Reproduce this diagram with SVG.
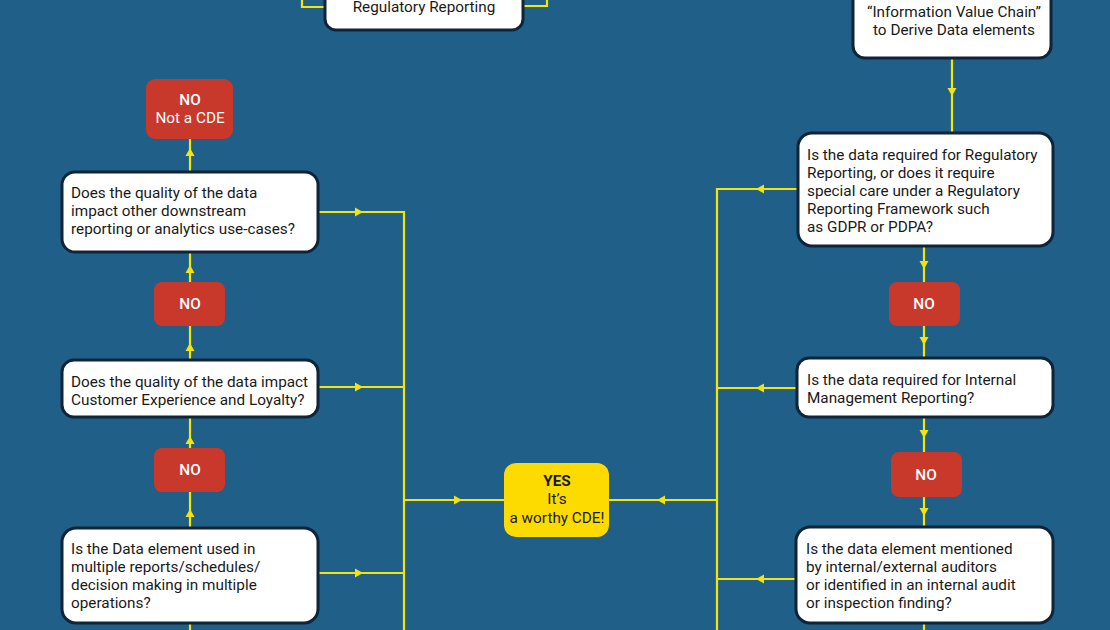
<svg xmlns="http://www.w3.org/2000/svg" width="1110" height="630" viewBox="0 0 1110 630">
<defs>
<style>
.q{fill:#ffffff;stroke:#0f2438;stroke-width:3}
.no{fill:#c8382b}
.yes{fill:#fddb00}
.t{font-family:Roboto,"Liberation Sans",sans-serif;font-size:15.3px;fill:#1a1a1a}
.w{font-family:Roboto,"Liberation Sans",sans-serif;font-size:15.3px;fill:#ffffff;text-anchor:middle}
.c{text-anchor:middle}
.b{font-weight:500}
.ln{fill:none;stroke:#f5e40c;stroke-width:2.2}
.ah{fill:#f5e40c}
</style>
<path id="ah" d="M0,0 L-8,-4.5 L-8,4.5 Z"/>
</defs>
<rect width="1110" height="630" fill="#1f5f88"/>
<g id="connectors">
<path class="ln" d="M325,7 H302 V0"/>
<path class="ln" d="M523,6 H547 V0"/>
<path class="ln" d="M952,58 V133"/>
<path class="ln" d="M798,189 H717 V630"/>
<path class="ln" d="M797,388 H717"/>
<path class="ln" d="M796,579 H717"/>
<path class="ln" d="M924,246 V282"/>
<path class="ln" d="M924,326 V358"/>
<path class="ln" d="M924,417 V452"/>
<path class="ln" d="M924,497 V527"/>
<path class="ln" d="M924,623 V630"/>
<path class="ln" d="M717,500 H609"/>
<path class="ln" d="M404,500 H504"/>
<path class="ln" d="M318,212 H404 V630"/>
<path class="ln" d="M318,387 H404"/>
<path class="ln" d="M318,573 H404"/>
<path class="ln" d="M190,172 V139"/>
<path class="ln" d="M190,282 V252"/>
<path class="ln" d="M190,360 V326"/>
<path class="ln" d="M190,448 V417"/>
<path class="ln" d="M190,528 V492"/>
<path class="ln" d="M190,623 V630"/>
<g class="ah">
<use href="#ah" transform="translate(952,96) rotate(90)"/>
<use href="#ah" transform="translate(756,189) rotate(180)"/>
<use href="#ah" transform="translate(756,388) rotate(180)"/>
<use href="#ah" transform="translate(756,579) rotate(180)"/>
<use href="#ah" transform="translate(924,269) rotate(90)"/>
<use href="#ah" transform="translate(924,345) rotate(90)"/>
<use href="#ah" transform="translate(924,438) rotate(90)"/>
<use href="#ah" transform="translate(924,516) rotate(90)"/>
<use href="#ah" transform="translate(657,500) rotate(180)"/>
<use href="#ah" transform="translate(462,500)"/>
<use href="#ah" transform="translate(363,212)"/>
<use href="#ah" transform="translate(363,387)"/>
<use href="#ah" transform="translate(363,573)"/>
<use href="#ah" transform="translate(190,148) rotate(-90)"/>
<use href="#ah" transform="translate(190,265) rotate(-90)"/>
<use href="#ah" transform="translate(190,343) rotate(-90)"/>
<use href="#ah" transform="translate(190,436) rotate(-90)"/>
<use href="#ah" transform="translate(190,509) rotate(-90)"/>
</g>
</g>
<g id="reg-top">
<rect class="q" x="325" y="-20" width="198" height="50" rx="11"/>
<text class="t c" x="424" y="12">Regulatory Reporting</text>
</g>
<g id="ivc">
<rect class="q" x="853" y="-20" width="198" height="78" rx="12"/>
<text class="t c" x="954" y="17">“Information Value Chain”</text>
<text class="t c" x="954" y="35">to Derive Data elements</text>
</g>
<g id="q-regulatory">
<rect class="q" x="798" y="133" width="255" height="113" rx="14"/>
<text class="t" x="807" y="160">Is the data required for Regulatory</text>
<text class="t" x="807" y="178">Reporting, or does it require</text>
<text class="t" x="807" y="196">special care under a Regulatory</text>
<text class="t" x="807" y="214">Reporting Framework such</text>
<text class="t" x="807" y="232">as GDPR or PDPA?</text>
</g>
<g id="no-r1">
<rect class="no" x="889" y="282" width="71" height="44" rx="8"/>
<text class="w b" x="924" y="309">NO</text>
</g>
<g id="q-internal">
<rect class="q" x="797" y="358" width="256" height="59" rx="12"/>
<text class="t" x="807" y="385">Is the data required for Internal</text>
<text class="t" x="807" y="403">Management Reporting?</text>
</g>
<g id="no-r2">
<rect class="no" x="891" y="452" width="71" height="45" rx="8"/>
<text class="w b" x="926" y="480">NO</text>
</g>
<g id="q-audit">
<rect class="q" x="796" y="527" width="257" height="96" rx="14"/>
<text class="t" x="806" y="554">Is the data element mentioned</text>
<text class="t" x="806" y="572">by internal/external auditors</text>
<text class="t" x="806" y="590">or identified in an internal audit</text>
<text class="t" x="806" y="608">or inspection finding?</text>
</g>
<g id="yes">
<rect class="yes" x="504" y="463" width="105" height="74" rx="12"/>
<text class="t c" x="557" y="486" style="font-weight:700">YES</text>
<text class="t c" x="557" y="504">It’s</text>
<text class="t c" x="557" y="523">a worthy CDE!</text>
</g>
<g id="not-cde">
<rect class="no" x="146" y="79" width="87" height="60" rx="9"/>
<text class="w b" x="190" y="105">NO</text>
<text class="w" x="190" y="123">Not a CDE</text>
</g>
<g id="q-downstream">
<rect class="q" x="62" y="172" width="256" height="80" rx="13"/>
<text class="t" x="71" y="198">Does the quality of the data</text>
<text class="t" x="71" y="216">impact other downstream</text>
<text class="t" x="71" y="234">reporting or analytics use-cases?</text>
</g>
<g id="no-l1">
<rect class="no" x="154" y="282" width="71" height="44" rx="8"/>
<text class="w b" x="190" y="309">NO</text>
</g>
<g id="q-customer">
<rect class="q" x="62" y="360" width="256" height="57" rx="12"/>
<text class="t" x="71" y="387">Does the quality of the data impact</text>
<text class="t" x="71" y="405">Customer Experience and Loyalty?</text>
</g>
<g id="no-l2">
<rect class="no" x="154" y="448" width="71" height="44" rx="8"/>
<text class="w b" x="190" y="475">NO</text>
</g>
<g id="q-multiple">
<rect class="q" x="62" y="528" width="256" height="95" rx="14"/>
<text class="t" x="71" y="554">Is the Data element used in</text>
<text class="t" x="71" y="572">multiple reports/schedules/</text>
<text class="t" x="71" y="590">decision making in multiple</text>
<text class="t" x="71" y="608">operations?</text>
</g>
</svg>
